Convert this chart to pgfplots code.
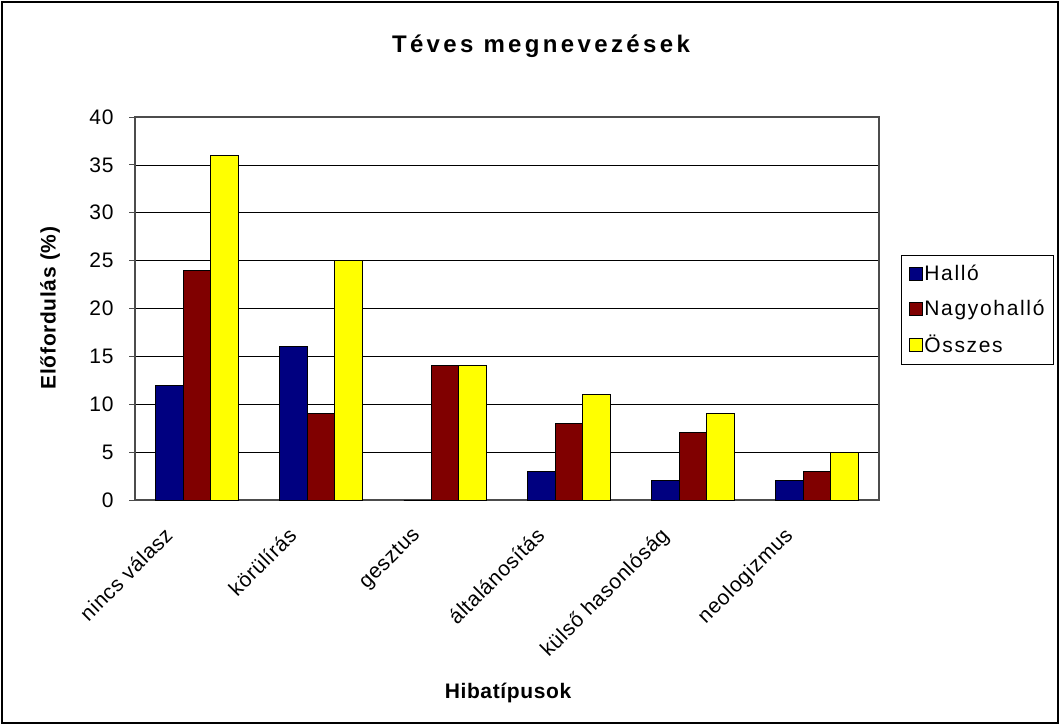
\documentclass[border=0pt]{standalone}
\usepackage{fontspec}
\setmainfont{Liberation Sans}
\newfontfamily\titlefont[LetterSpace=14]{Liberation Sans}
\newfontfamily\legfont[LetterSpace=8]{Liberation Sans}
\newfontfamily\labfont[LetterSpace=3]{Liberation Sans}
\newfontfamily\tickfont[LetterSpace=3]{Liberation Sans}
\usepackage{pgfplots}
\pgfplotsset{compat=1.18}

\definecolor{halloblue}{RGB}{0,0,128}
\definecolor{nagyred}{RGB}{128,0,0}
\definecolor{osszyellow}{RGB}{255,255,0}

\pgfplotstableread{
x hallo nagy ossz
0 12 24 36
1 16 9  25
2 0  14 14
3 3  8  11
4 2  7  9
5 2  3  5
}\hibak

\pgfplotsset{
  legsq/.style={legend image code/.code={
    \draw[##1, draw=black, line width=0.8pt] (0pt,-6.5pt) rectangle (13pt,6.5pt);}},
}

\begin{document}
\begin{tikzpicture}
\useasboundingbox (0pt,0pt) rectangle (1060pt,-726pt);
\draw[line width=1.5pt] (2pt,-2pt) rectangle (1058pt,-723pt);

\begin{axis}[
  at={(135pt,-500pt)}, anchor=south west,
  scale only axis, width=744pt, height=383pt,
  xmin=-0.5, xmax=5.5, ymin=0, ymax=40,
  ytick={0,5,...,40},
  xtick={0,...,5},
  xticklabels={nincs válasz, körülírás, gesztus, általánosítás, külső hasonlóság, neologizmus},
  major x tick style={draw=none},
  extra x ticks={-0.5,0.5,...,5.5},
  extra x tick style={xticklabel={}, major tick length=6pt, tick style={draw=gray!60!black, line width=1pt}},
  tick align=outside, tick pos=left,
  major tick length=6pt,
  ytick style={draw=gray!60!black, line width=1pt},
  ymajorgrids, grid style={black, line width=0.7pt},
  axis line style={draw=gray!60!black, line width=1.2pt},
  ybar=0pt, bar width=27.5pt,
  ticklabel style={font=\tickfont\fontsize{21}{25}\selectfont},
  /pgf/number format/assume math mode=true,
  yticklabel style={xshift=-12pt},
  xticklabel style={xshift=-34pt, yshift=-15pt, rotate=45, anchor=north east},
  legend style={at={(1.0296,0.64)}, anchor=north west, draw=black, line width=1pt,
    font=\legfont\fontsize{21}{25}\selectfont, row sep=14pt, inner xsep=7pt, inner ysep=8pt,
    legend cell align=left},
  every axis plot/.append style={draw=black, line width=1pt},
]
\addplot[fill=halloblue, legsq] table[x=x, y=hallo] {\hibak};
\addplot[fill=nagyred, legsq] table[x=x, y=nagy] {\hibak};
\addplot[fill=osszyellow, legsq] table[x=x, y=ossz] {\hibak};
\legend{Halló, Nagyohalló, Összes}
\end{axis}

\node[font=\titlefont\bfseries\fontsize{24}{28}\selectfont] at (541pt,-46pt) {Téves megnevezések};
\node[font=\labfont\bfseries\fontsize{21}{25}\selectfont, rotate=90] at (50pt,-308pt) {Előfordulás (\%)};
\node[font=\labfont\bfseries\fontsize{21}{25}\selectfont] at (508pt,-693pt) {Hibatípusok};
\end{tikzpicture}
\end{document}
